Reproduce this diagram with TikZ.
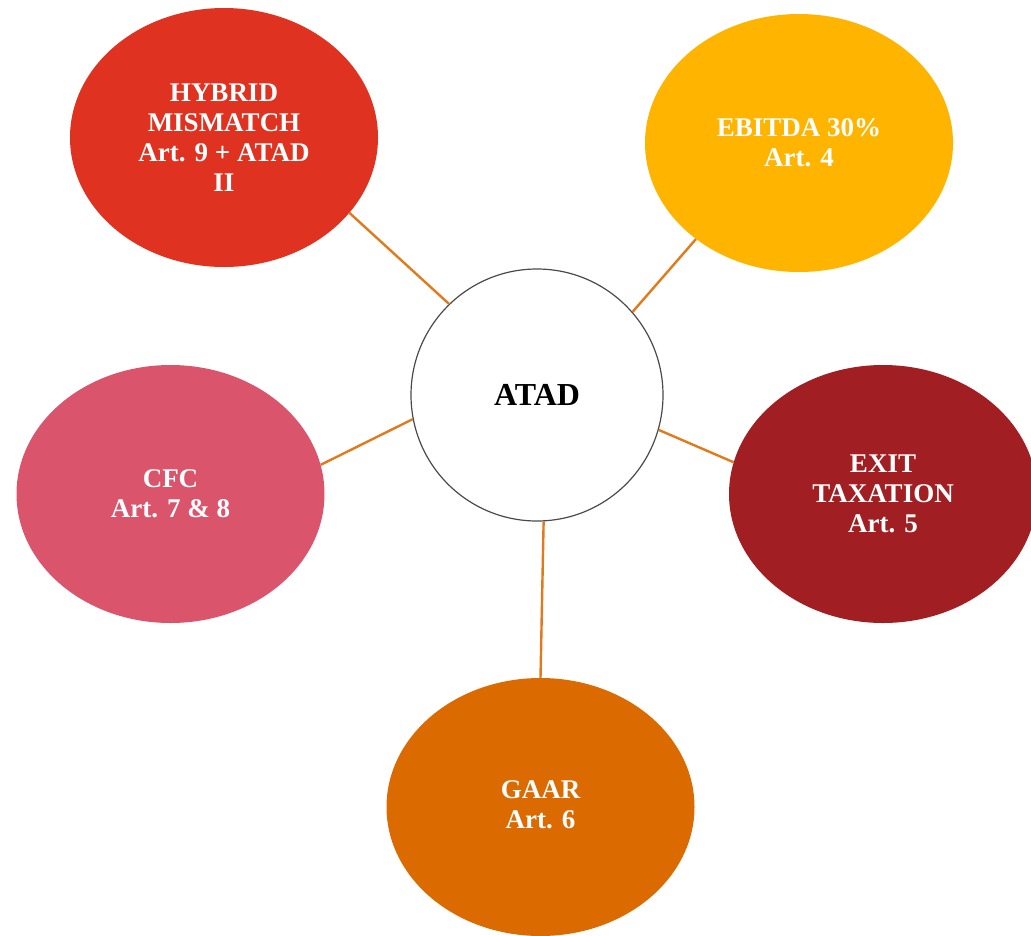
\documentclass[tikz,border=0pt]{standalone}
\usepackage{fontspec}
\setmainfont{Liberation Serif}
\usetikzlibrary{shapes.geometric}

\definecolor{hybridred}{HTML}{E03220}
\definecolor{ebitdayellow}{HTML}{FFB400}
\definecolor{exitred}{HTML}{A11F22}
\definecolor{gaarorange}{HTML}{DB6A00}
\definecolor{cfcpink}{HTML}{DA556C}
\definecolor{linkorange}{HTML}{E07A1C}
\definecolor{rimgray}{HTML}{4A4A4A}

\tikzset{
  topic/.style={ellipse, inner sep=0pt, minimum width=308pt, minimum height=258pt,
    text=white, align=center, font=\fontsize{27}{30}\selectfont\bfseries},
  hub/.style={circle, draw=rimgray, line width=1.2pt, fill=white, minimum size=252pt,
    inner sep=0pt, font=\fontsize{32}{36}\selectfont\bfseries},
  link/.style={draw=linkorange, line width=2.4pt}
}

\begin{document}
\begin{tikzpicture}[x=1pt, y=-1pt]
  \useasboundingbox (0,0) rectangle (1031,935);

  % topic ellipses around the hub
  \node[topic, fill=hybridred, minimum height=259pt] (hybrid) at (224,137.5)
    {HYBRID\\MISMATCH\\Art. 9 + ATAD\\II};
  \node[topic, fill=ebitdayellow] (ebitda) at (799,143) {EBITDA 30\%\\Art. 4};
  \node[topic, fill=exitred] (exit) at (883,494) {EXIT\\TAXATION\\Art. 5};
  \node[topic, fill=gaarorange] (gaar) at (540.5,807) {\raisebox{16pt}{\begin{tabular}{@{}c@{}}GAAR\\Art. 6\end{tabular}}};
  \node[topic, fill=cfcpink] (cfc) at (170.5,494) {CFC\\Art. 7 \& 8};

  % central hub
  \node[hub] (atad) at (537,395) {ATAD};

  % connectors
  \draw[link] (hybrid.-31.3) -- (atad.134.7);
  \draw[link] (ebitda.223) -- (atad.41.2);
  \draw[link] (exit.168.7) -- (atad.-16.4);
  \draw[link] (gaar.90.2) -- (atad.-87.3);
  \draw[link] (cfc.11.3) -- (atad.191.4);
\end{tikzpicture}
\end{document}
